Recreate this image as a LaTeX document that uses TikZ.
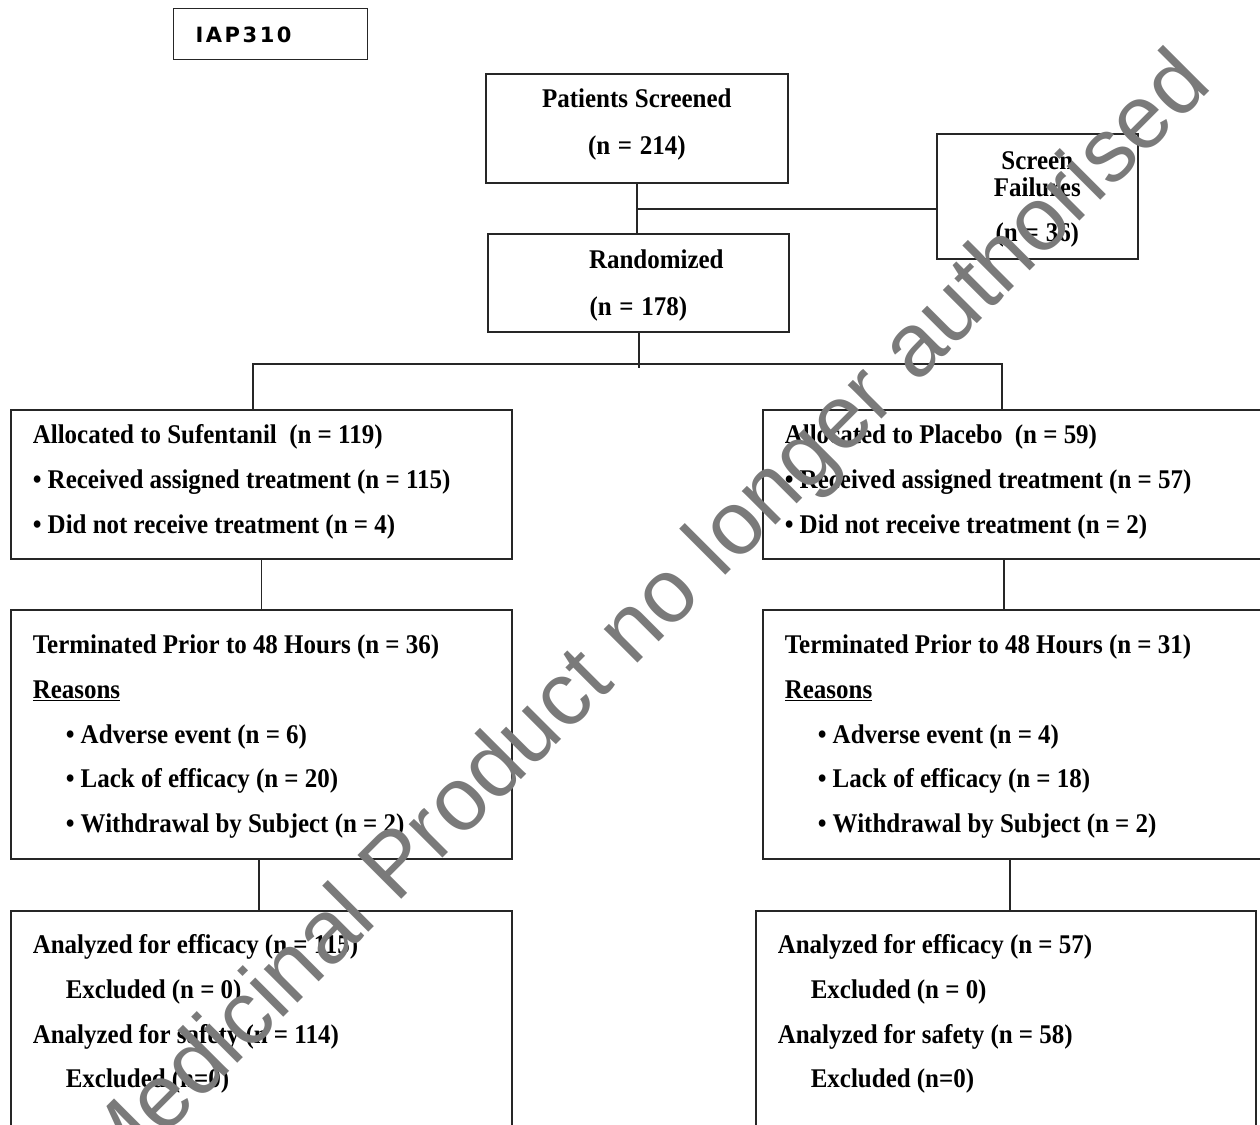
\documentclass[tikz,border=0pt]{standalone}
\usepackage{fontspec}
\setmainfont{Liberation Serif}
\newfontfamily\boxfont{Liberation Serif}[FakeStretch=0.925]
\newfontfamily\tagfont{DejaVu Sans}[LetterSpace=12]
\newfontfamily\markfont{Liberation Sans}
\newcommand{\tightspace}{\spaceskip=6.2pt plus 1pt minus 1pt\relax}
\tikzset{
  flowbox/.style={draw=black!85, line width=1.6pt, shape=rectangle, anchor=north west,
    inner xsep=22pt, inner ysep=0pt, align=left,
    font=\boxfont\bfseries\fontsize{27}{44.7}\selectfont,
    execute at begin node=\tightspace},
  midbox/.style={flowbox, align=center},
  link/.style={draw=black!85, line width=1.5pt},
}
\newcommand{\ind}{\hspace*{33pt}}
\begin{document}
\begin{tikzpicture}[x=1pt, y=-1pt]
\useasboundingbox (0,0) rectangle (1260,1124);
\clip (0,0) rectangle (1260,1124);
\node[flowbox, line width=1.3pt, text width=150pt, text height=33.7pt, text depth=17.3pt,
  font=\tagfont\bfseries\fontsize{21}{25}\selectfont] (study) at (173,8) {IAP310};

% screening
\node[midbox, text width=258pt, text height=34pt, text depth=75pt] (screened) at (485,73)
  {Patients Screened\\[2pt](n = 214)};
\node[midbox, text width=157pt, text height=36pt, text depth=89pt] (failures) at (936,133)
  {Screen\\[-17.7pt]Failures\\(n = 36)};
\node[midbox, text width=257pt, text height=35pt, text depth=63pt] (randomized) at (487,233)
  {\hspace*{36pt}Randomized\\[2.3pt](n = 178)};

% allocation
\node[flowbox, text width=457pt, text height=34pt, text depth=115pt] (sufalloc) at (10,409)
  {Allocated to Sufentanil\ \ (n = 119)\\
   • Received assigned treatment (n = 115)\\
   • Did not receive treatment (n = 4)};
\node[flowbox, text width=466pt, text height=34pt, text depth=115pt] (placalloc) at (762,409)
  {Allocated to Placebo\ \ (n = 59)\\
   • Received assigned treatment (n = 57)\\
   • Did not receive treatment (n = 2)};

% follow-up
\node[flowbox, text width=457pt, text height=44pt, text depth=205pt] (sufterm) at (10,609)
  {Terminated Prior to 48 Hours (n = 36)\\
   \underline{Reasons}\\
   \ind• Adverse event (n = 6)\\
   \ind• Lack of efficacy (n = 20)\\
   \ind• Withdrawal by Subject (n = 2)};
\node[flowbox, text width=466pt, text height=44pt, text depth=205pt] (placterm) at (762,609)
  {Terminated Prior to 48 Hours (n = 31)\\
   \underline{Reasons}\\
   \ind• Adverse event (n = 4)\\
   \ind• Lack of efficacy (n = 18)\\
   \ind• Withdrawal by Subject (n = 2)};

% analysis
\node[flowbox, text width=457pt, text height=43pt, text depth=177pt] (sufanal) at (10,910)
  {Analyzed for efficacy (n = 115)\\
   \ind Excluded (n = 0)\\
   Analyzed for safety (n = 114)\\
   \ind Excluded (n=0)};
\node[flowbox, text width=456pt, text height=43pt, text depth=177pt] (placanal) at (755,910)
  {Analyzed for efficacy (n = 57)\\
   \ind Excluded (n = 0)\\
   Analyzed for safety (n = 58)\\
   \ind Excluded (n=0)};

% connectors
\coordinate (fjoin) at (636,209);
\coordinate (split) at (639,364);
\coordinate (barL) at (253,364);
\coordinate (barR) at (1002,364);
\draw[link] (screened.south) -- (screened.south |- randomized.north);
\draw[link] (fjoin) -- (fjoin -| failures.west);
\draw[link] (split |- randomized.south) -- ([yshift=-4pt]split);
\draw[link] (barL |- sufalloc.north) -- (barL) -- (barR) -- (barR |- placalloc.north);
\draw[link] (sufalloc.south) -- (sufalloc.south |- sufterm.north);
\draw[link] ([xshift=2pt]barR |- placalloc.south) -- ([xshift=2pt]barR |- placterm.north);
\draw[link] ([xshift=-2.5pt]sufanal.north) -- ([xshift=-2.5pt]sufanal.north |- sufterm.south);
\draw[link] ([xshift=4pt]placanal.north) -- ([xshift=4pt]placanal.north |- placterm.south);

% watermark
\node[text=black!52, font=\markfont\fontsize{90}{90}\selectfont, rotate=45,
  anchor=base east, inner sep=0pt] (stamp) at (1214,87) {Medicinal Product no longer authorised};
\end{tikzpicture}
\end{document}
